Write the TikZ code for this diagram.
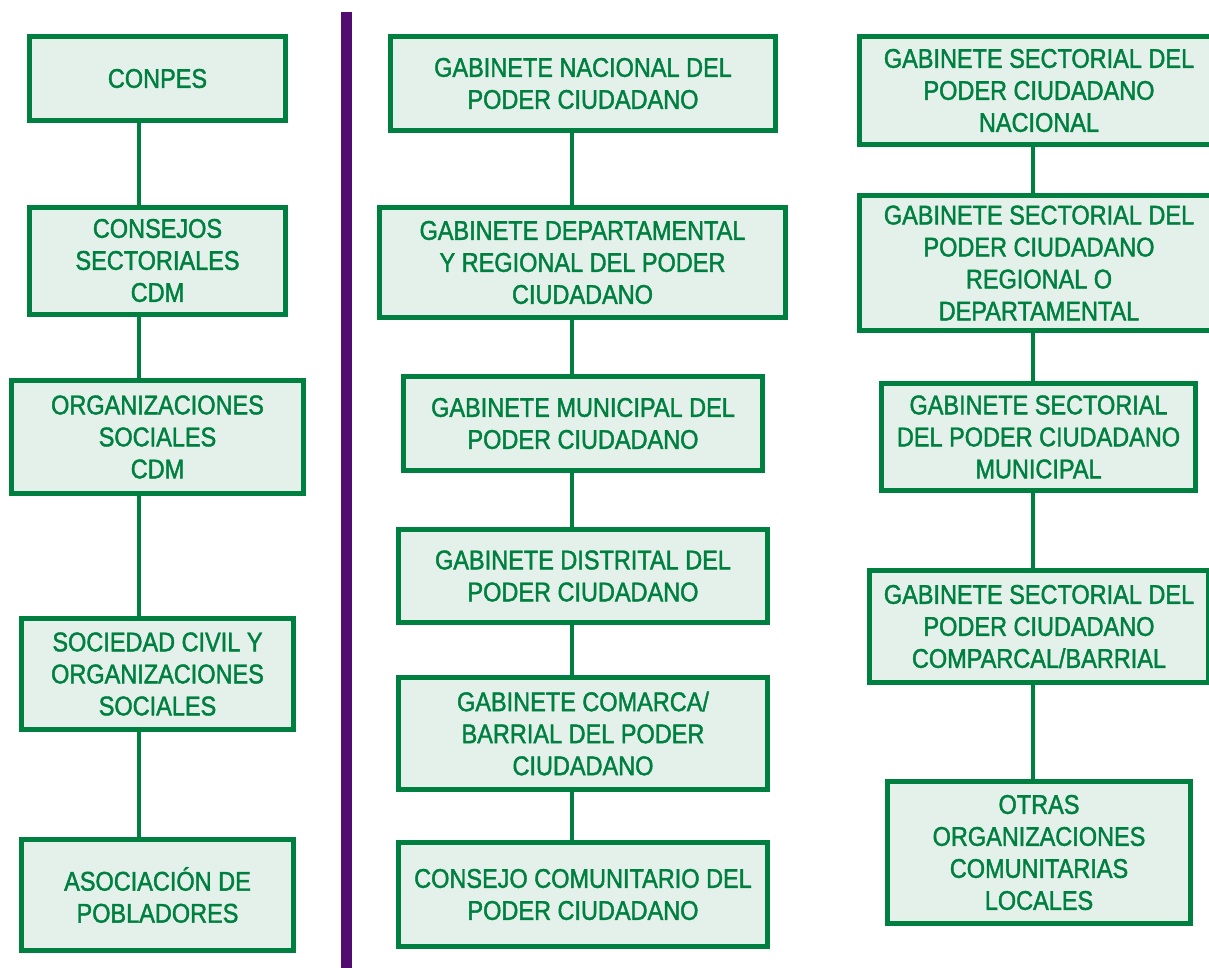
\documentclass[tikz,border=0pt]{standalone}
\usepackage{fontspec}
\setmainfont{Liberation Sans}[FakeStretch=0.87,FakeBold=1.6]
\definecolor{gr}{HTML}{008040}
\definecolor{fillc}{HTML}{E4F1EA}
\definecolor{pur}{HTML}{520B70}
\tikzset{
  box/.style={draw=gr, line width=5pt, fill=fillc, text=gr, align=center, inner sep=0pt,
    font=\fontsize{27}{32}\selectfont},
  link/.style={draw=gr, line width=4.5pt},
  sep/.style={draw=pur, line width=11pt}
}
\begin{document}
\begin{tikzpicture}[x=1pt,y=-1pt]
\useasboundingbox (0,0) rectangle (1209,967);
\clip (0,0) rectangle (1209,967);
\fill[white] (0,0) rectangle (1209,967);

% separator
\coordinate (sepTop) at (346.5,12);
\coordinate (sepBot) at (346.5,975);
\draw[sep] (sepTop) -- (sepBot);

% connector columns
\coordinate (xL) at (139,0);
\coordinate (xM) at (572,0);
\coordinate (xR) at (1033,0);

% left column
\node[box, minimum width=256pt, minimum height=84pt] (l1) at (157.5,78.5) {CONPES};
\node[box, minimum width=256pt, minimum height=107pt] (l2) at (157.5,260.5) {CONSEJOS\\SECTORIALES\\CDM};
\node[box, minimum width=292pt, minimum height=113pt] (l3) at (157.5,437) {ORGANIZACIONES\\SOCIALES\\CDM};
\node[box, minimum width=272pt, minimum height=111pt] (l4) at (157.5,674) {SOCIEDAD CIVIL Y\\ORGANIZACIONES\\SOCIALES};
\node[box, minimum width=272pt, minimum height=111pt] (l5) at (157.5,895) {ASOCIACIÓN DE\\POBLADORES};

% middle column
\node[box, minimum width=385pt, minimum height=94pt] (m1) at (583,83.5) {GABINETE NACIONAL DEL\\PODER CIUDADANO};
\node[box, minimum width=406pt, minimum height=110pt] (m2) at (582.5,262.5) {GABINETE DEPARTAMENTAL\\Y REGIONAL DEL PODER\\CIUDADANO};
\node[box, minimum width=359pt, minimum height=94pt] (m3) at (583,423.5) {GABINETE MUNICIPAL DEL\\PODER CIUDADANO};
\node[box, minimum width=369pt, minimum height=93pt] (m4) at (583,576) {GABINETE DISTRITAL DEL\\PODER CIUDADANO};
\node[box, minimum width=369pt, minimum height=112pt] (m5) at (583,733.5) {GABINETE COMARCA/\\BARRIAL DEL PODER\\CIUDADANO};
\node[box, minimum width=369pt, minimum height=104pt] (m6) at (583,894.5) {CONSEJO COMUNITARIO DEL\\PODER CIUDADANO};

% right column
\node[box, minimum width=359pt, minimum height=108pt] (r1) at (1039,90.5) {GABINETE SECTORIAL DEL\\PODER CIUDADANO\\NACIONAL};
\node[box, minimum width=359pt, minimum height=135pt] (r2) at (1039,263) {GABINETE SECTORIAL DEL\\PODER CIUDADANO\\REGIONAL O\\DEPARTAMENTAL};
\node[box, minimum width=314pt, minimum height=107pt] (r3) at (1038.5,437) {GABINETE SECTORIAL\\DEL PODER CIUDADANO\\MUNICIPAL};
\node[box, minimum width=339pt, minimum height=112pt] (r4) at (1039,626.5) {GABINETE SECTORIAL DEL\\PODER CIUDADANO\\COMPARCAL/BARRIAL};
\node[box, minimum width=303pt, minimum height=142pt] (r5) at (1039,852.5) {OTRAS\\ORGANIZACIONES\\COMUNITARIAS\\LOCALES};

% connectors
\draw[link] (l1.south -| xL) -- (l2.north -| xL);
\draw[link] (l2.south -| xL) -- (l3.north -| xL);
\draw[link] (l3.south -| xL) -- (l4.north -| xL);
\draw[link] (l4.south -| xL) -- (l5.north -| xL);

\draw[link] (m1.south -| xM) -- (m2.north -| xM);
\draw[link] (m2.south -| xM) -- (m3.north -| xM);
\draw[link] (m3.south -| xM) -- (m4.north -| xM);
\draw[link] (m4.south -| xM) -- (m5.north -| xM);
\draw[link] (m5.south -| xM) -- (m6.north -| xM);

\draw[link] (r1.south -| xR) -- (r2.north -| xR);
\draw[link] (r2.south -| xR) -- (r3.north -| xR);
\draw[link] (r3.south -| xR) -- (r4.north -| xR);
\draw[link] (r4.south -| xR) -- (r5.north -| xR);
\end{tikzpicture}
\end{document}
